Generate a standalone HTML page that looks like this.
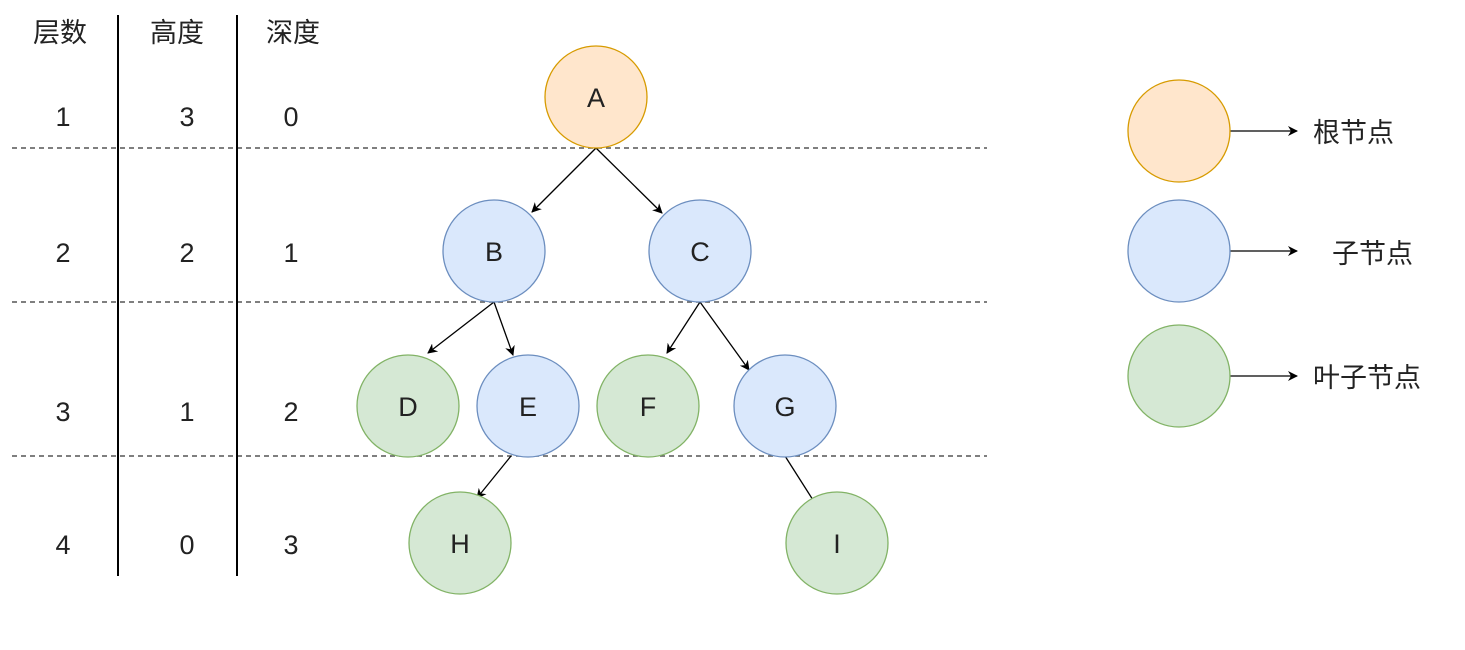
<!DOCTYPE html>
<html><head><meta charset="utf-8"><style>
body{margin:0;background:#fff;}
svg{display:block;font-family:"Liberation Sans","Noto Sans CJK SC",sans-serif;}
</style></head><body>
<svg width="1465" height="650" viewBox="0 0 1465 650" xmlns="http://www.w3.org/2000/svg">
<defs><marker id="ar" markerWidth="10" markerHeight="10" refX="9" refY="5" orient="auto" markerUnits="userSpaceOnUse"><path d="M0,0 L10,5 L0,10 L3,5 z" fill="#000"/></marker></defs>
<g stroke="#555" stroke-width="1.5" stroke-dasharray="5,4">
<line x1="12" y1="148" x2="987" y2="148"/><line x1="12" y1="302" x2="987" y2="302"/><line x1="12" y1="456" x2="987" y2="456"/>
</g>
<g stroke="#000" stroke-width="2"><line x1="118" y1="15" x2="118" y2="576"/><line x1="237" y1="15" x2="237" y2="576"/></g>
<g font-size="27" fill="#222" text-anchor="middle">
<text x="60" y="42">层数</text><text x="177" y="42">高度</text><text x="293" y="42">深度</text>
<text x="63" y="126">1</text><text x="187" y="126">3</text><text x="291" y="126">0</text>
<text x="63" y="262">2</text><text x="187" y="262">2</text><text x="291" y="262">1</text>
<text x="63" y="421">3</text><text x="187" y="421">1</text><text x="291" y="421">2</text>
<text x="63" y="554">4</text><text x="187" y="554">0</text><text x="291" y="554">3</text>
</g>
<g stroke="#000" stroke-width="1.3" marker-end="url(#ar)">
<line x1="596" y1="148" x2="532" y2="212"/><line x1="596" y1="148" x2="662" y2="213"/>
<line x1="494" y1="302" x2="428" y2="353"/><line x1="494" y1="302" x2="513" y2="355"/>
<line x1="700" y1="302" x2="667" y2="353"/><line x1="700" y1="302" x2="749" y2="370"/>
<line x1="511" y1="456" x2="477" y2="498"/><line x1="785" y1="456" x2="820" y2="511"/>
<line x1="1230" y1="131" x2="1297" y2="131"/><line x1="1230" y1="251" x2="1297" y2="251"/><line x1="1230" y1="376" x2="1297" y2="376"/>
</g>
<g stroke-width="1.3">
<circle cx="596" cy="97" r="51" fill="#ffe6cc" stroke="#d79b00"/>
<circle cx="494" cy="251" r="51" fill="#dae8fc" stroke="#6c8ebf"/>
<circle cx="700" cy="251" r="51" fill="#dae8fc" stroke="#6c8ebf"/>
<circle cx="408" cy="406" r="51" fill="#d5e8d4" stroke="#82b366"/>
<circle cx="528" cy="406" r="51" fill="#dae8fc" stroke="#6c8ebf"/>
<circle cx="648" cy="406" r="51" fill="#d5e8d4" stroke="#82b366"/>
<circle cx="785" cy="406" r="51" fill="#dae8fc" stroke="#6c8ebf"/>
<circle cx="460" cy="543" r="51" fill="#d5e8d4" stroke="#82b366"/>
<circle cx="837" cy="543" r="51" fill="#d5e8d4" stroke="#82b366"/>
<circle cx="1179" cy="131" r="51" fill="#ffe6cc" stroke="#d79b00"/>
<circle cx="1179" cy="251" r="51" fill="#dae8fc" stroke="#6c8ebf"/>
<circle cx="1179" cy="376" r="51" fill="#d5e8d4" stroke="#82b366"/>
</g>
<g font-size="27" fill="#222" text-anchor="middle">
<text x="596" y="107">A</text><text x="494" y="261">B</text><text x="700" y="261">C</text>
<text x="408" y="416">D</text><text x="528" y="416">E</text><text x="648" y="416">F</text><text x="785" y="416">G</text>
<text x="460" y="553">H</text><text x="837" y="553">I</text>
</g>
<g font-size="27" fill="#222">
<text x="1313" y="142">根节点</text><text x="1332" y="263">子节点</text><text x="1313" y="387">叶子节点</text>
</g>
</svg>
</body></html>
